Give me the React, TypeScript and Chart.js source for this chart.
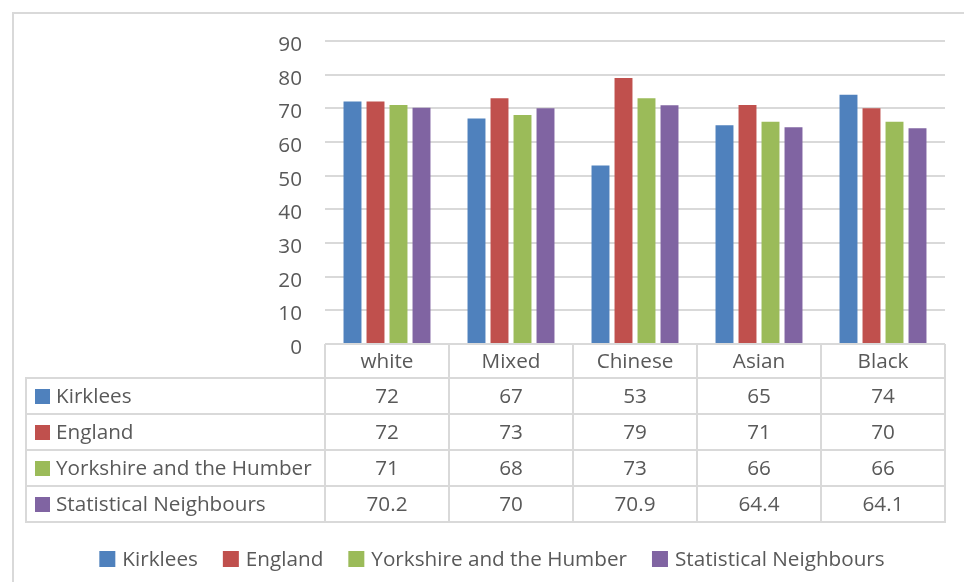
import React, { useEffect, useRef } from "react";
import { Chart, registerables } from "chart.js";

Chart.register(...registerables);

const categories = ["white", "Mixed", "Chinese", "Asian", "Black"];
const kirklees = [72, 67, 53, 65, 74];
const england = [72, 73, 79, 71, 70];
const yorkshire = [71, 68, 73, 66, 66];
const statNeighbours = [70.2, 70, 70.9, 64.4, 64.1];
const seriesNames = ["Kirklees", "England", "Yorkshire and the Humber", "Statistical Neighbours"];
const seriesColors = ["#4f81bd", "#c0504d", "#9bbb59", "#8064a2"];
const yMin = 0;
const yMax = 90;
const yStep = 10;

const FONT_FAMILY = '"Open Sans", sans-serif';
const FONT_SIZE = 20.7;
const TEXT_COLOR = "#595959";
const LINE_COLOR = "#d9d9d9";

const tableLegendPlugin = {
  id: "tableLegend",
  beforeDraw(chart: any) {
    const ctx = chart.ctx;
    ctx.save();
    ctx.fillStyle = "#ffffff";
    ctx.fillRect(0, 0, chart.width, chart.height);
    ctx.strokeStyle = LINE_COLOR;
    ctx.lineWidth = 2;
    ctx.strokeRect(13, 13, chart.width + 20, chart.height + 20);
    ctx.restore();
  },
  afterDraw(chart: any) {
    const { ctx, chartArea } = chart;
    const datasets = chart.data.datasets;
    const labels = chart.data.labels as string[];
    const n = labels.length;
    const colW = (chartArea.right - chartArea.left) / n;
    const top = chartArea.bottom;
    const headerH = 34;
    const rowH = 36;
    const tableLeft = 26;
    const bottom = top + headerH + rowH * datasets.length;

    ctx.save();
    ctx.strokeStyle = LINE_COLOR;
    ctx.lineWidth = 2;
    ctx.beginPath();
    ctx.moveTo(chartArea.left, top);
    ctx.lineTo(chartArea.right, top);
    for (let r = 0; r <= datasets.length; r++) {
      const y = top + headerH + r * rowH;
      ctx.moveTo(tableLeft - 1, y);
      ctx.lineTo(chartArea.right + 1, y);
    }
    for (let i = 0; i <= n; i++) {
      const x = chartArea.left + i * colW;
      ctx.moveTo(x, top);
      ctx.lineTo(x, bottom);
    }
    ctx.moveTo(tableLeft, top + headerH);
    ctx.lineTo(tableLeft, bottom);
    ctx.stroke();

    ctx.font = `${FONT_SIZE}px ${FONT_FAMILY}`;
    ctx.fillStyle = TEXT_COLOR;
    ctx.textBaseline = "middle";
    ctx.textAlign = "center";
    const xs = chart.scales.x;
    labels.forEach((lab, i) => {
      ctx.fillText(lab, xs.getPixelForValue(i), top + headerH / 2 + 1);
    });
    datasets.forEach((ds: any, r: number) => {
      const cy = top + headerH + r * rowH + rowH / 2 + 1;
      ds.data.forEach((v: number, i: number) => {
        ctx.fillStyle = TEXT_COLOR;
        ctx.textAlign = "center";
        ctx.fillText(String(v), xs.getPixelForValue(i), cy);
      });
      ctx.fillStyle = ds.backgroundColor;
      ctx.fillRect(35, cy - 8, 15, 15);
      ctx.fillStyle = TEXT_COLOR;
      ctx.textAlign = "left";
      ctx.fillText(ds.label, 56, cy);
    });

    // legend
    const box = 16;
    const gapText = 7;
    const gapItem = 25;
    const widths = datasets.map((ds: any) => box + gapText + ctx.measureText(ds.label).width);
    const total = widths.reduce((a: number, b: number) => a + b, 0) + gapItem * (datasets.length - 1);
    let x = 492 - total / 2;
    const ly = 559;
    datasets.forEach((ds: any, i: number) => {
      ctx.fillStyle = ds.backgroundColor;
      ctx.fillRect(x, ly - 8, box, box);
      ctx.fillStyle = TEXT_COLOR;
      ctx.textAlign = "left";
      ctx.fillText(ds.label, x + box + gapText, ly + 1);
      x += widths[i] + gapItem;
    });
    ctx.restore();
  },
};

export default function App() {
  const ref = useRef<HTMLCanvasElement | null>(null);
  useEffect(() => {
    document.body.style.margin = "0";
    const canvas = ref.current;
    if (!canvas) return;
    const values = [kirklees, england, yorkshire, statNeighbours];
    const chart = new Chart(canvas, {
      type: "bar",
      data: {
        labels: categories,
        datasets: seriesNames.map((name, i) => ({
          label: name,
          data: values[i],
          backgroundColor: seriesColors[i],
          borderWidth: 0,
          categoryPercentage: 0.742,
          barPercentage: 0.78,
        })),
      },
      options: {
        responsive: false,
        animation: false,
        devicePixelRatio: 1,
        layout: { padding: { top: 41, bottom: 238, left: 0, right: 19 } },
        plugins: {
          legend: { display: false },
          tooltip: { enabled: false },
        },
        scales: {
          x: { display: false },
          y: {
            min: yMin,
            max: yMax,
            border: { display: false },
            grid: { color: LINE_COLOR, lineWidth: 2, drawTicks: false },
            ticks: {
              stepSize: yStep,
              padding: 23,
              labelOffset: 4,
              color: TEXT_COLOR,
              font: { family: FONT_FAMILY, size: FONT_SIZE },
            },
            afterFit(scale: any) {
              scale.width = 325;
            },
          },
        },
      },
      plugins: [tableLegendPlugin],
    });
    return () => chart.destroy();
  }, []);
  return (
    <div style={{ width: 964, height: 582 }}>
      <canvas ref={ref} width={964} height={582} style={{ display: "block" }} />
    </div>
  );
}
